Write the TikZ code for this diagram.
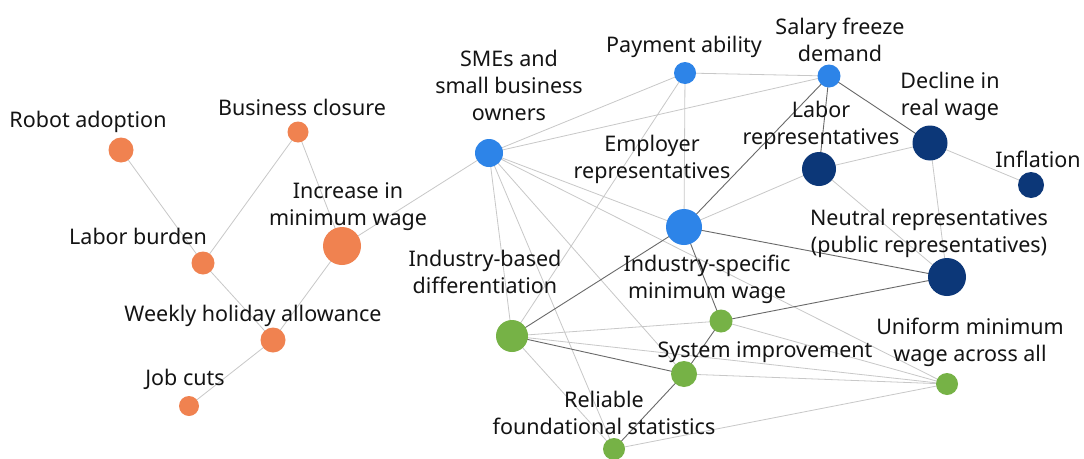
\documentclass[tikz,border=0pt]{standalone}
\usepackage{fontspec}
\setmainfont{Noto Sans}
\definecolor{orn}{RGB}{240,130,80}
\definecolor{lblue}{RGB}{45,132,232}
\definecolor{navy}{RGB}{12,55,120}
\definecolor{grn}{RGB}{118,178,70}
\definecolor{elight}{RGB}{200,200,200}
\definecolor{edark}{RGB}{105,105,105}
\pgfdeclarelayer{bg}
\pgfsetlayers{bg,main}
\tikzset{
  dot/.style={circle, inner sep=0pt, minimum size=#1},
  onode/.style={dot=#1, fill=orn},
  bnode/.style={dot=#1, fill=lblue},
  nnode/.style={dot=#1, fill=navy},
  gnode/.style={dot=#1, fill=grn},
  lbl/.style={font=\fontsize{21.5}{27}\selectfont, align=center, inner sep=0pt, text=black!92, yshift=-2.5pt},
  el/.style={draw=elight, line width=0.8pt},
  ed/.style={draw=edark, line width=0.9pt},
}
\begin{document}
\begin{tikzpicture}[x=1pt,y=-1pt]
\useasboundingbox (0,0) rectangle (1084,458);
\clip (0,0) rectangle (1084,458);
% orange
\node[onode=25] (robot) at (121,150) {};
\node[onode=21] (closure) at (298,132) {};
\node[onode=23] (burden) at (203,263) {};
\node[onode=38] (increase) at (342,246) {};
\node[onode=25] (weekly) at (273,340) {};
\node[onode=20] (jobcuts) at (189,406) {};
% blue
\node[bnode=28] (smes) at (489,153) {};
\node[bnode=22] (payment) at (685,73) {};
\node[bnode=36] (employer) at (684,227) {};
\node[bnode=23] (freeze) at (829,76) {};
% navy
\node[nnode=34] (laborrep) at (819,169) {};
\node[nnode=35] (decline) at (930,143) {};
\node[nnode=26] (inflation) at (1031,185) {};
\node[nnode=38] (neutral) at (947,277) {};
% green
\node[gnode=32] (indbased) at (512,336) {};
\node[gnode=23] (indspec) at (721,321) {};
\node[gnode=26] (sysimp) at (684,374) {};
\node[gnode=22] (reliable) at (614,449) {};
\node[gnode=22] (uniform) at (947,384) {};
% edges
\begin{pgfonlayer}{bg}
\fill[white] (0,0) rectangle (1084,458);
\draw[el] (robot.center) -- (burden.center);
\draw[el] (closure.center) -- (burden.center);
\draw[el] (closure.center) -- (increase.center);
\draw[el] (burden.center) -- (weekly.center);
\draw[el] (increase.center) -- (weekly.center);
\draw[el] (weekly.center) -- (jobcuts.center);
\draw[el] (increase.center) -- (smes.center);
\draw[el] (smes.center) -- (payment.center);
\draw[el] (smes.center) -- (freeze.center);
\draw[el] (smes.center) -- (employer.center);
\draw[el] (smes.center) -- (indbased.center);
\draw[el] (smes.center) -- (reliable.center);
\draw[el] (smes.center) -- (sysimp.center);
\draw[el] (smes.center) -- (uniform.center);
\draw[el] (payment.center) -- (freeze.center);
\draw[el] (payment.center) -- (employer.center);
\draw[el] (payment.center) -- (indbased.center);
\draw[ed] (freeze.center) -- (employer.center);
\draw[ed] (freeze.center) -- (laborrep.center);
\draw[ed] (freeze.center) -- (decline.center);
\draw[el] (laborrep.center) -- (decline.center);
\draw[el] (laborrep.center) -- (employer.center);
\draw[el] (laborrep.center) -- (neutral.center);
\draw[el] (decline.center) -- (inflation.center);
\draw[el] (decline.center) -- (neutral.center);
\draw[ed] (employer.center) -- (neutral.center);
\draw[ed] (employer.center) -- (indspec.center);
\draw[ed] (employer.center) -- (indbased.center);
\draw[ed] (indspec.center) -- (neutral.center);
\draw[ed] (indspec.center) -- (sysimp.center);
\draw[el] (indspec.center) -- (uniform.center);
\draw[el] (indspec.center) -- (indbased.center);
\draw[ed] (indbased.center) -- (sysimp.center);
\draw[el] (indbased.center) -- (uniform.center);
\draw[el] (indbased.center) -- (reliable.center);
\draw[el] (sysimp.center) -- (uniform.center);
\draw[ed] (sysimp.center) -- (reliable.center);
\draw[el] (reliable.center) -- (uniform.center);
\end{pgfonlayer}
% labels
\node[lbl] (lrobot) at (88,119) {Robot adoption};
\node[lbl] (lclosure) at (302,105) {Business closure};
\node[lbl] (lburden) at (138,234) {Labor burden};
\node[lbl] (lincrease) at (348,204) {Increase in\\minimum wage};
\node[lbl] (lweekly) at (253,313) {Weekly holiday allowance};
\node[lbl] (ljobcuts) at (185,377) {Job cuts};
\node[lbl] (lsmes) at (509,83) {SMEs and\\small business\\owners};
\node[lbl] (lpayment) at (684,44) {Payment ability};
\node[lbl] (lfreeze) at (840,37) {Salary freeze\\demand};
\node[lbl] (ldecline) at (950,94) {Decline in\\real wage};
\node[lbl] (llaborrep) at (821,123) {Labor\\representatives};
\node[lbl] (linflation) at (1038,157) {Inflation};
\node[lbl] (lemployer) at (652,157) {Employer\\representatives};
\node[lbl] (lneutral) at (929,231) {Neutral representatives\\(public representatives)};
\node[lbl] (lindbased) at (485,269) {Industry-based\\differentiation};
\node[lbl] (lindspec) at (707,277) {Industry-specific\\minimum wage};
\node[lbl] (lsysimp) at (765,350) {System improvement};
\node[lbl] (luniform) at (970,340) {Uniform minimum\\wage across all};
\node[lbl] (lreliable) at (604,410) {Reliable\\foundational statistics};
\end{tikzpicture}
\end{document}
